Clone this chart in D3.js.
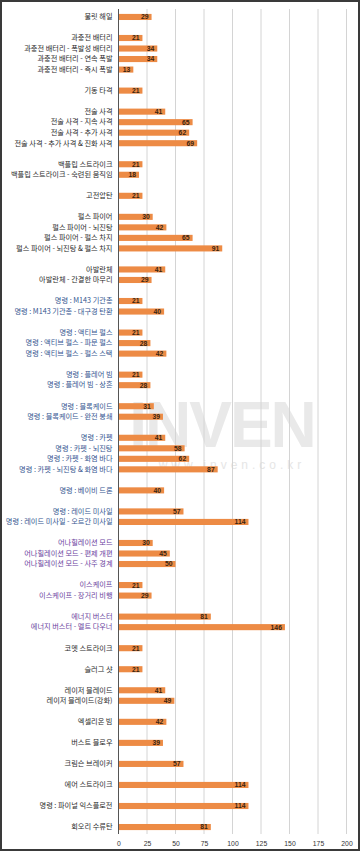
<!DOCTYPE html>
<html><head><meta charset="utf-8">
<script src="https://cdn.jsdelivr.net/npm/d3@7"></script>
<style>
html,body{margin:0;padding:0;background:#fff;}
svg{display:block;}
</style></head>
<body>
<script>
const categories = [
"불릿 해일","",
"과충전 배터리","과충전 배터리 - 폭발성 배터리","과충전 배터리 - 연속 폭발","과충전 배터리 - 즉시 폭발","",
"기동 타격","",
"전술 사격","전술 사격 - 지속 사격","전술 사격 - 추가 사격","전술 사격 - 추가 사격 & 진화 사격","",
"백플립 스트라이크","백플립 스트라이크 - 숙련된 움직임","",
"고전압탄","",
"펄스 파이어","펄스 파이어 - 뇌진탕","펄스 파이어 - 펄스 차지","펄스 파이어 - 뇌진탕 & 펄스 차지","",
"아발란체","아발란체 - 간결한 마무리","",
"명령 : M143 기관총","명령 : M143 기관총 - 대구경 탄환","",
"명령 : 액티브 펄스","명령 : 액티브 펄스 - 파문 펄스","명령 : 액티브 펄스 - 펄스 스택","",
"명령 : 플레어 빔","명령 : 플레어 빔 - 상흔","",
"명령 : 블록케이드","명령 : 블록케이드 - 완전 봉쇄","",
"명령 : 카펫","명령 : 카펫 - 뇌진탕","명령 : 카펫 - 화염 바다","명령 : 카펫 - 뇌진탕 & 화염 바다","",
"명령 : 베이비 드론","",
"명령 : 레이드 미사일","명령 : 레이드 미사일 - 오르간 미사일","",
"어나힐레이션 모드","어나힐레이션 모드 - 편제 개편","어나힐레이션 모드 - 사주 경계","",
"이스케이프","이스케이프 - 장거리 비행","",
"에너지 버스터","에너지 버스터 - 멜트 다우너","",
"코멧 스트라이크","",
"슬러그 샷","",
"레이저 블레이드","레이저 블레이드(강화)","",
"엑셀리온 빔","",
"버스트 블로우","",
"크림슨 브레이커","",
"에어 스트라이크","",
"명령 : 파이널 익스플로전","",
"회오리 수류탄"
];
const values = [
29,null,
21,34,34,13,null,
21,null,
41,65,62,69,null,
21,18,null,
21,null,
30,42,65,91,null,
41,29,null,
21,40,null,
21,28,42,null,
21,28,null,
31,39,null,
41,58,62,87,null,
40,null,
57,114,null,
30,45,50,null,
21,29,null,
81,146,null,
21,null,
21,null,
41,49,null,
42,null,
39,null,
57,null,
114,null,
114,null,
81
];
const xTicks = [0,25,50,75,100,125,150,175,200];

const W = 360, H = 851;
const svg = d3.select("body").append("svg").attr("width", W).attr("height", H);
svg.append("rect").attr("x",1).attr("y",1).attr("width",W-2).attr("height",H-2)
  .attr("fill","#fff").attr("stroke","#3a3a3a").attr("stroke-width",2);

const rows = categories.map((c,i)=>({key:"r"+i, label:c, value:values[i]}));
const x = d3.scaleLinear().domain([0,200]).range([118.5,346.5]);
const y = d3.scaleBand().domain(rows.map(r=>r.key)).range([11.7, 832.3]).paddingInner(0.42).paddingOuter(0.21);

// watermark
svg.append("text").attr("x",222).attr("y",447).attr("text-anchor","middle")
  .attr("font-family","Liberation Sans, Arial, sans-serif").attr("font-weight","bold")
  .attr("font-size",64).attr("fill","#e9e9e9").attr("letter-spacing","-2").text("INVEN");
svg.append("text").attr("x",232).attr("y",469).attr("text-anchor","middle")
  .attr("font-family","Liberation Sans, Arial, sans-serif")
  .attr("font-size",12).attr("fill","#e6e6e6").attr("letter-spacing","4").text("www.inven.co.kr");

// gridlines
svg.append("g").selectAll("line").data(xTicks.slice(1)).join("line")
  .attr("x1",d=>x(d)).attr("x2",d=>x(d)).attr("y1",9).attr("y2",834)
  .attr("stroke","#d4d4d4").attr("stroke-width",1);

// bars
svg.append("g").selectAll("rect").data(rows.filter(r=>r.value!=null)).join("rect")
  .attr("x",x(0)).attr("y",d=>y(d.key)).attr("width",d=>x(d.value)-x(0)).attr("height",y.bandwidth())
  .attr("fill","#ED8B45");

// value labels
svg.append("g").selectAll("text").data(rows.filter(r=>r.value!=null)).join("text")
  .attr("x",d=>x(d.value)-3).attr("y",d=>y(d.key)+y.bandwidth()/2)
  .attr("dy","0.36em").attr("text-anchor","end")
  .attr("font-family","Liberation Sans, Arial, sans-serif").attr("font-weight","bold")
  .attr("font-size",6.8).attr("fill","#3a2410").text(d=>d.value);

// category axis
const yAxis = d3.axisLeft(y).tickSize(0).tickPadding(6).tickFormat(k=>rows.find(r=>r.key===k).label);
const gy = svg.append("g").attr("transform",`translate(${x(0)},0)`).call(yAxis);
gy.select(".domain").attr("stroke","#555").attr("stroke-width",1).attr("d",`M0,9V834`);
function labelColor(t){
  if(/^(어나힐레이션|이스케이프|에너지 버스터)/.test(t)) return "#6a3f9e";
  if(/^명령/.test(t) && t.indexOf("파이널")<0) return "#34558f";
  return "#2a2a2a";
}
gy.selectAll(".tick text").attr("font-family","'Noto Sans CJK KR', sans-serif").attr("font-size",7.2)
  .attr("fill",function(k){return labelColor(rows.find(r=>r.key===k).label);});

// x axis
const xAxis = d3.axisBottom(x).tickValues(xTicks).tickSize(0).tickPadding(5);
const gx = svg.append("g").attr("transform",`translate(0,836)`).call(xAxis);
gx.select(".domain").remove();
gx.selectAll(".tick text").attr("font-family","Liberation Sans, Arial, sans-serif").attr("font-size",6.8).attr("fill","#333");
</script>
</body></html>
